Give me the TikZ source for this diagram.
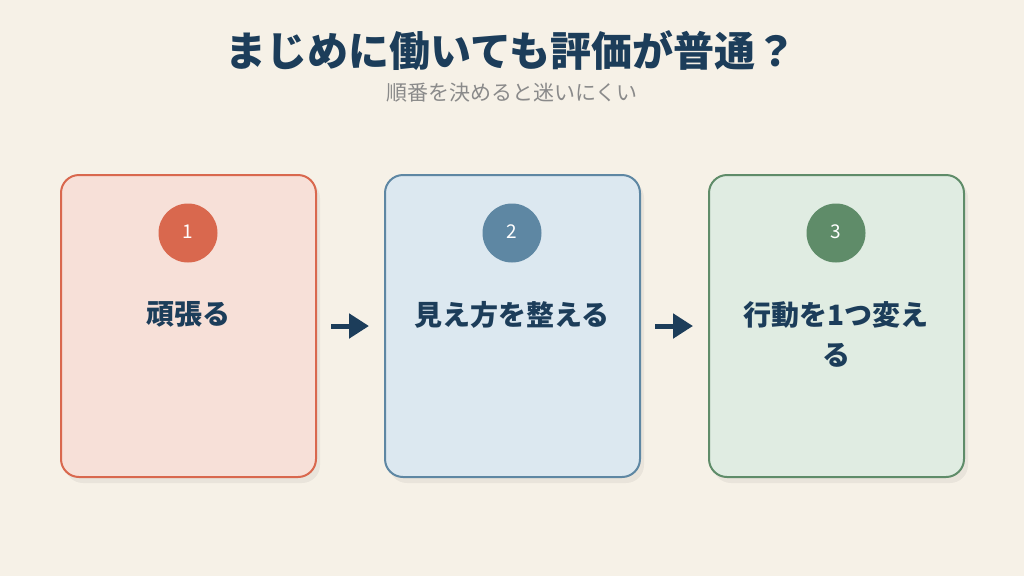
\documentclass[tikz,border=0pt]{standalone}
\usepackage{fontspec}
\setmainfont{Noto Sans CJK JP}
\usetikzlibrary{arrows.meta}
\definecolor{bg}{HTML}{F6F1E7}
\definecolor{ink}{HTML}{1C3D5A}
\definecolor{sub}{HTML}{8A8A8A}
\definecolor{fA}{HTML}{F7E0D8}
\definecolor{dA}{HTML}{D9684E}
\definecolor{fB}{HTML}{DCE8F0}
\definecolor{dB}{HTML}{5E87A3}
\definecolor{fC}{HTML}{E0ECE2}
\definecolor{dC}{HTML}{5F8C69}
\tikzset{
  card/.style={draw=#1, line width=2pt, rounded corners=18pt, minimum width=255pt, minimum height=302pt, inner sep=0pt},
  shade box/.style={fill=black, opacity=0.05, rounded corners=18pt},
  badge/.style={circle, fill=#1, minimum size=59pt, inner sep=0pt, text=white, font=\fontsize{19}{21}\selectfont},
  label/.style={text=ink, font=\fontsize{28}{40}\selectfont\bfseries, align=center, anchor=north, inner sep=0pt},
  flow/.style={draw=ink, line width=5pt, -{Triangle[length=20pt,width=24pt]}, shorten <=14pt, shorten >=15pt}
}
\begin{document}
\begin{tikzpicture}[x=1pt,y=-1pt]
\fill[bg] (0,0) rectangle (1024,576);
\useasboundingbox (0,0) rectangle (1024,576);
% title
\node[text=ink, font=\fontsize{41}{46}\selectfont\bfseries] (title) at (511,51) {まじめに働いても評価が普通？};
\node[text=sub, font=\fontsize{21}{24}\selectfont] (subtitle) at (512,93) {順番を決めると迷いにくい};
% shadows
\foreach \x in {61,385,709} {
  \fill[shade box] (\x+4,180) rectangle (\x+259,483);
}
% cards
\node[card=dA, fill=fA] (b1) at (188.5,326) {};
\node[card=dB, fill=fB] (b2) at (512.5,326) {};
\node[card=dC, fill=fC] (b3) at (836.5,326) {};
% badges
\node[badge=dA] (n1) at (188,233) {\raisebox{2pt}{1}};
\node[badge=dB] (n2) at (512,233) {\raisebox{2pt}{2}};
\node[badge=dC] (n3) at (836,233) {\raisebox{2pt}{3}};
% labels
\node[label] (t1) at (188,301) {頑張る};
\node[label] (t2) at (512,301) {見え方を整える};
\node[label] (t3) at (836,301) {行動を1つ変え\\る};
% arrows
\draw[flow] (b1.east) -- (b2.west);
\draw[flow] (b2.east) -- (b3.west);
\end{tikzpicture}
\end{document}
